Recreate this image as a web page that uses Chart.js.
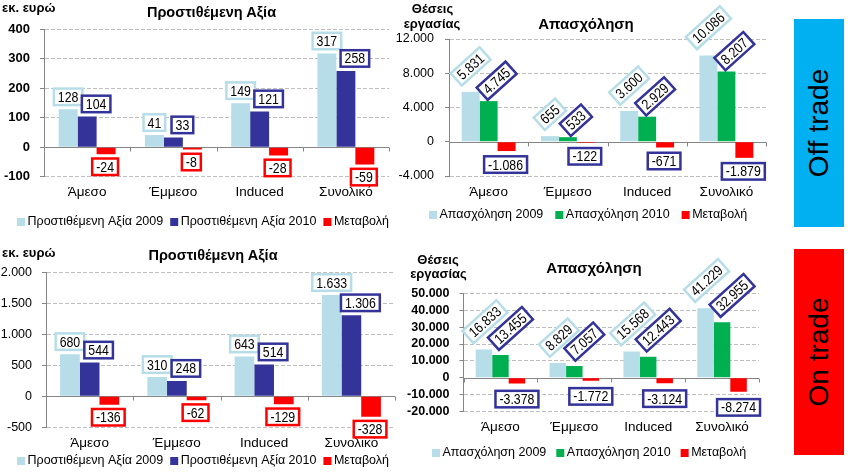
<!DOCTYPE html>
<html><head><meta charset="utf-8">
<script src="https://cdn.jsdelivr.net/npm/chart.js@4.4.1/dist/chart.umd.min.js"></script>
<style>
html,body{margin:0;padding:0;background:#fff;}
body{width:848px;height:473px;position:relative;overflow:hidden;font-family:"Liberation Sans",Arial,sans-serif;}
canvas{position:absolute;}
.t{position:absolute;white-space:nowrap;color:#000;line-height:1;transform:translate(-50%,-50%);font-weight:bold;}
.tl{position:absolute;white-space:nowrap;color:#000;line-height:1;transform:translate(0,-50%);font-weight:bold;}
.panel{position:absolute;display:flex;align-items:center;justify-content:center;}
.panel span{transform:rotate(-90deg);white-space:nowrap;font-size:28px;color:#000;line-height:1;}
</style></head><body>
<canvas id="c1"></canvas>
<canvas id="c2"></canvas>
<canvas id="c3"></canvas>
<canvas id="c4"></canvas>

<div class="tl" style="left:2px;top:6.5px;font-size:13px">εκ. ευρώ</div>
<div class="t" style="left:211.5px;top:12px;font-size:14.5px">Προστιθέμενη Αξία</div>
<div class="t" style="left:432.5px;top:7.5px;font-size:13px">Θέσεις</div>
<div class="t" style="left:432px;top:23.4px;font-size:13px">εργασίας</div>
<div class="t" style="left:586px;top:23px;font-size:15px">Απασχόληση</div>

<div class="tl" style="left:2px;top:252px;font-size:13px">εκ. ευρώ</div>
<div class="t" style="left:213px;top:255.3px;font-size:14.5px">Προστιθέμενη Αξία</div>
<div class="t" style="left:438px;top:259px;font-size:13px">Θέσεις</div>
<div class="t" style="left:438.5px;top:273px;font-size:13px">εργασίας</div>
<div class="t" style="left:594px;top:267px;font-size:15px">Απασχόληση</div>

<div class="panel" style="left:794px;top:19px;width:50px;height:208px;background:#00B0F0"><span>Off trade</span></div>
<div class="panel" style="left:794px;top:249px;width:50px;height:206px;background:#FF0000"><span>On trade</span></div>

<script>
// ---------- DATA ----------
const categories = ['Άμεσο', 'Έμμεσο', 'Induced', 'Συνολικό'];

const vaSeriesNames  = ['Προστιθέμενη Αξία 2009', 'Προστιθέμενη Αξία 2010', 'Μεταβολή'];
const empSeriesNames = ['Απασχόληση 2009', 'Απασχόληση 2010', 'Μεταβολή'];

const offVA2009   = [128, 41, 149, 317];
const offVA2010   = [104, 33, 121, 258];
const offVAChange = [-24, -8, -28, -59];

const offEmp2009   = [5831, 655, 3600, 10086];
const offEmp2010   = [4745, 533, 2929, 8207];
const offEmpChange = [-1086, -122, -671, -1879];

const onVA2009   = [680, 310, 643, 1633];
const onVA2010   = [544, 248, 514, 1306];
const onVAChange = [-136, -62, -129, -328];

const onEmp2009   = [16833, 8829, 15568, 41229];
const onEmp2010   = [13455, 7057, 12443, 32955];
const onEmpChange = [-3378, -1772, -3124, -8274];

const offVATicks  = [-100, 0, 100, 200, 300, 400];
const offEmpTicks = [-4000, 0, 4000, 8000, 12000];
const onVATicks   = [-500, 0, 500, 1000, 1500, 2000];
const onEmpTicks  = [-20000, -10000, 0, 10000, 20000, 30000, 40000, 50000];

// ---------- HELPERS ----------
const FONT = "'Liberation Sans', Arial, sans-serif";
Chart.defaults.font.family = FONT;
const AXIS = '#868686';
const C2009 = '#B7DEE8', CNAVY = '#333399', CGREEN = '#00B050', CRED = '#FF0000';

function fmt(v) {
  const s = Math.abs(v).toString().replace(/\B(?=(\d{3})+(?!\d))/g, '.');
  return (v < 0 ? '-' : '') + s;
}

const zeroLine = {
  id: 'zeroLine',
  beforeDatasetsDraw(chart) {
    const {ctx, chartArea: a, scales: {x, y}} = chart;
    const y0 = Math.round(y.getPixelForValue(0)) + 0.5;
    ctx.save();
    ctx.strokeStyle = AXIS; ctx.lineWidth = 1; ctx.setLineDash([]);
    ctx.beginPath();
    ctx.moveTo(a.left, y0); ctx.lineTo(a.right, y0);
    const n = categories.length;
    for (let i = 0; i <= n; i++) {
      const xx = Math.round(x.getPixelForValue(i - 0.5)) + 0.5;
      ctx.moveTo(xx, y0); ctx.lineTo(xx, y0 + 4);
    }
    ctx.stroke();
    ctx.restore();
  }
};

const boxLabels = {
  id: 'boxLabels',
  afterDatasetsDraw(chart, args, o) {
    const {ctx} = chart;
    chart.data.datasets.forEach((ds, di) => {
      const r = o.rules[di];
      const meta = chart.getDatasetMeta(di);
      meta.data.forEach((el, i) => {
        const v = ds.data[i];
        const txt = fmt(v);
        ctx.save();
        ctx.font = o.font;
        const tw = ctx.measureText(txt).width * o.sx;
        const w = tw + 2 * o.padX, h = o.h;
        const th = r.rot * Math.PI / 180;
        const halfH = (w * Math.abs(Math.sin(th)) + h * Math.abs(Math.cos(th))) / 2 + o.lw / 2;
        const cx = el.x + r.dx;
        const cy = v >= 0 ? Math.min(el.y, el.base) - r.gap - halfH
                          : Math.max(el.y, el.base) + r.gap + halfH;
        ctx.translate(cx, cy);
        ctx.rotate(th);
        ctx.fillStyle = '#fff';
        ctx.strokeStyle = r.border;
        ctx.lineWidth = o.lw;
        ctx.fillRect(-w / 2, -h / 2, w, h);
        ctx.strokeRect(-w / 2, -h / 2, w, h);
        ctx.scale(o.sx, 1);
        ctx.fillStyle = '#000';
        ctx.textAlign = 'center';
        ctx.textBaseline = 'middle';
        ctx.fillText(txt, 0, 1);
        ctx.restore();
      });
    });
  }
};

const boxLegend = {
  id: 'boxLegend',
  afterDraw(chart, args, o) {
    const {ctx} = chart;
    ctx.save();
    ctx.font = '12.5px ' + FONT;
    ctx.textBaseline = 'middle';
    ctx.textAlign = 'left';
    let x = o.x;
    chart.data.datasets.forEach(ds => {
      ctx.fillStyle = ds.backgroundColor;
      ctx.fillRect(x, o.y - 4, 8, 8);
      ctx.fillStyle = '#000';
      ctx.fillText(ds.label, x + 10.5, o.y);
      x += 10.5 + ctx.measureText(ds.label).width + o.gap;
    });
    ctx.restore();
  }
};

function makeChart(s) {
  const cv = document.getElementById(s.id);
  cv.width = s.w; cv.height = s.h;
  cv.style.left = s.x0 + 'px'; cv.style.top = s.y0 + 'px';
  cv.style.width = s.w + 'px'; cv.style.height = s.h + 'px';
  const L = s.L - s.x0, R = s.R - s.x0, T = s.T - s.y0, B = s.B - s.y0;
  return new Chart(cv, {
    type: 'bar',
    data: {
      labels: categories,
      datasets: s.series.map((d, i) => ({
        label: s.names[i], data: d, backgroundColor: s.colors[i],
        borderWidth: 0, categoryPercentage: s.cat, barPercentage: 1
      }))
    },
    options: {
      responsive: false, animation: false, devicePixelRatio: 1,
      layout: {padding: {left: 0, right: s.w - R, top: T, bottom: 0}},
      plugins: {
        legend: {display: false}, tooltip: {enabled: false}, title: {display: false},
        boxLabels: {rules: s.rules, font: '14.5px ' + FONT, sx: 0.85, padX: 4, h: 16.5, lw: 2.5},
        boxLegend: {x: s.legX - s.x0, y: s.legY - s.y0, gap: s.legGap}
      },
      scales: {
        x: {
          grid: {display: false, drawTicks: false},
          border: {display: false},
          ticks: {color: '#000', font: {size: 13.5}, padding: s.xpad, maxRotation: 0, autoSkip: false},
          afterFit(sc) { sc.height = s.h - B; }
        },
        y: {
          min: s.ticks[0], max: s.ticks[s.ticks.length - 1],
          afterBuildTicks(sc) { sc.ticks = s.ticks.map(v => ({value: v})); },
          ticks: {color: '#000', font: s.tickFont, padding: s.ypad, autoSkip: false, callback: v => fmt(v)},
          grid: {
            color: c => (c.tick && c.tick.value === 0) ? 'rgba(0,0,0,0)' : '#BFBFBF',
            tickColor: AXIS, tickLength: 4, tickBorderDash: [], drawTicks: true
          },
          border: {display: true, color: AXIS, dash: [4, 2]},
          afterFit(sc) { sc.width = L; }
        }
      }
    },
    plugins: [zeroLine, boxLabels, boxLegend]
  });
}

const flatRules = border3 => [
  {rot: 0, dx: 0, gap: 3, border: C2009},
  {rot: 0, dx: 9, gap: 3, border: CNAVY},
  {rot: 0, dx: -1, gap: 3, border: border3}
];

makeChart({
  id: 'c1', x0: 0, y0: 0, w: 400, h: 235,
  L: 44, R: 389, T: 29, B: 176.7,
  series: [offVA2009, offVA2010, offVAChange], names: vaSeriesNames,
  colors: [C2009, CNAVY, CRED], cat: 0.66, ticks: offVATicks,
  tickFont: {size: 13, weight: 'bold'}, ypad: 10, xpad: 7.5,
  rules: flatRules(CRED), legX: 17, legY: 222, legGap: 7
});

makeChart({
  id: 'c2', x0: 395, y0: 0, w: 395, h: 235,
  L: 449, R: 766, T: 39, B: 176,
  series: [offEmp2009, offEmp2010, offEmpChange], names: empSeriesNames,
  colors: [C2009, CGREEN, CRED], cat: 0.68, ticks: offEmpTicks,
  tickFont: {size: 12.5, weight: 'normal'}, ypad: 11, xpad: 7.8,
  rules: [
    {rot: -42, dx: 0, gap: 5, border: C2009},
    {rot: -42, dx: 8, gap: 0, border: CNAVY},
    {rot: 0, dx: -1, gap: 4, border: CNAVY}
  ],
  legX: 429, legY: 215, legGap: 12
});

makeChart({
  id: 'c3', x0: 0, y0: 238, w: 400, h: 235,
  L: 46, R: 395, T: 272.3, B: 427.3,
  series: [onVA2009, onVA2010, onVAChange], names: vaSeriesNames,
  colors: [C2009, CNAVY, CRED], cat: 0.677, ticks: onVATicks,
  tickFont: {size: 12.5, weight: 'normal'}, ypad: 10, xpad: 8.2,
  rules: flatRules(CRED), legX: 17, legY: 461, legGap: 7
});

makeChart({
  id: 'c4', x0: 400, y0: 238, w: 390, h: 235,
  L: 463.5, R: 759, T: 293.3, B: 411.7,
  series: [onEmp2009, onEmp2010, onEmpChange], names: empSeriesNames,
  colors: [C2009, CGREEN, CRED], cat: 0.67, ticks: onEmpTicks,
  tickFont: {size: 12.5, weight: 'bold'}, ypad: 10, xpad: 7.5,
  rules: [
    {rot: -42, dx: 1, gap: 5, border: C2009},
    {rot: -42, dx: 10, gap: 4, border: CNAVY},
    {rot: 0, dx: 0, gap: 6, border: CNAVY}
  ],
  legX: 432, legY: 453, legGap: 10
});
</script>
</body></html>
